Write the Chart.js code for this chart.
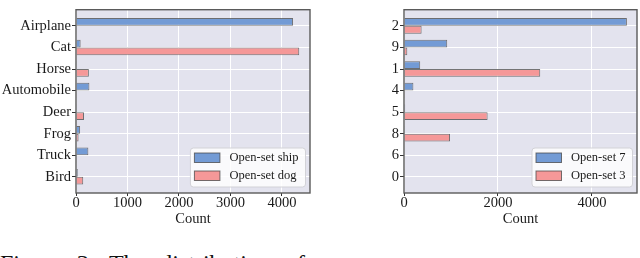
<!DOCTYPE html>
<html>
<head>
<meta charset="utf-8">
<script src="https://cdn.jsdelivr.net/npm/chart.js@4.4.1/dist/chart.umd.min.js"></script>
<style>
  html, body { margin: 0; padding: 0; background: #fff; }
  body { width: 640px; height: 258px; position: relative; overflow: hidden; }
  .panel { position: absolute; top: 0; width: 320px; height: 232px; }
  #leftBox { left: 0; }
  #rightBox { left: 320px; }
  #caption {
    position: absolute; left: 0; top: 251px; white-space: nowrap;
    font-family: 'Liberation Serif', 'Times New Roman', serif;
    font-size: 24px; line-height: 24px; word-spacing: 8px; color: #111;
  }
</style>
</head>
<body>
<div class="panel" id="leftBox"><canvas id="leftChart"></canvas></div>
<div class="panel" id="rightBox"><canvas id="rightChart"></canvas></div>
<div id="caption">Figure 3: The distribution of</div>
<script>
// ---- data ----
const leftCategories = ['Airplane', 'Cat', 'Horse', 'Automobile', 'Deer', 'Frog', 'Truck', 'Bird'];
const shipCounts = [4215, 90, 15, 260, 15, 80, 240, 35];
const dogCounts = [5, 4335, 250, 5, 155, 50, 5, 140];
const leftTicks = [0, 1000, 2000, 3000, 4000];

const rightCategories = ['2', '9', '1', '4', '5', '8', '6', '0'];
const set7Counts = [4745, 920, 345, 200, 25, 5, 10, 5];
const set3Counts = [375, 70, 2900, 5, 1780, 980, 10, 10];
const rightTicks = [0, 2000, 4000];

const BLUE = 'rgba(115, 155, 213, 1)';
const RED = 'rgba(245, 152, 152, 1)';
const EDGE = 'rgba(70, 70, 70, 0.75)';
const SERIF = "'Liberation Serif', 'Times New Roman', serif";

// 背景・枠・凡例を描くプラグイン
const framePlugin = {
    id: 'frame',
    beforeDraw(chart) {
        const { ctx, chartArea: a } = chart;
        ctx.save();
        ctx.fillStyle = '#e3e3ee';
        ctx.fillRect(a.left, a.top, a.right - a.left, a.bottom - a.top);
        ctx.restore();
    },
    afterDraw(chart) {
        const { ctx, chartArea: a } = chart;
        ctx.save();
        ctx.strokeStyle = '#5a5a5a';
        ctx.lineWidth = 1.4;
        ctx.strokeRect(a.left, a.top, a.right - a.left, a.bottom - a.top);

        // legend (inside, lower right)
        ctx.font = '12.5px ' + SERIF;
        const sets = chart.data.datasets;
        const textW = Math.max(...sets.map(d => ctx.measureText(d.label).width));
        const boxR = a.right - 4.5;
        const boxB = a.bottom - 6;
        const boxW = 40 + textW + 6;
        const boxH = 39;
        const boxL = boxR - boxW;
        const boxT = boxB - boxH;
        ctx.beginPath();
        ctx.roundRect(boxL, boxT, boxW, boxH, 3);
        ctx.fillStyle = 'rgba(255,255,255,0.8)';
        ctx.fill();
        ctx.strokeStyle = 'rgba(210,210,215,1)';
        ctx.lineWidth = 1;
        ctx.stroke();
        sets.forEach((d, i) => {
            const cy = boxT + 9.5 + i * 18;
            ctx.fillStyle = d.backgroundColor;
            ctx.fillRect(boxL + 4, cy - 4.5, 25.5, 9.5);
            ctx.strokeStyle = EDGE;
            ctx.lineWidth = 1;
            ctx.strokeRect(boxL + 4, cy - 4.5, 25.5, 9.5);
            ctx.fillStyle = '#1a1a1a';
            ctx.textBaseline = 'middle';
            ctx.textAlign = 'left';
            ctx.fillText(d.label, boxL + 39, cy);
        });
        ctx.restore();
    }
};

function makeData(values) {
    return values.map((v, i) => ({ x: v, y: i }));
}

function buildChart(canvasId, categories, seriesA, seriesB, labels, xMax, xTicks, yWidth, padRight) {
    const canvas = document.getElementById(canvasId);
    return new Chart(canvas, {
        type: 'bar',
        data: {
            datasets: [{
                label: labels[0],
                data: makeData(seriesA),
                backgroundColor: BLUE,
                borderColor: EDGE,
                borderWidth: 1,
                categoryPercentage: 0.72,
                barPercentage: 1.0
            }, {
                label: labels[1],
                data: makeData(seriesB),
                backgroundColor: RED,
                borderColor: EDGE,
                borderWidth: 1,
                categoryPercentage: 0.72,
                barPercentage: 1.0
            }]
        },
        options: {
            indexAxis: 'y',
            responsive: true,
            maintainAspectRatio: false,
            animation: false,
            layout: { padding: { top: 1, right: padRight, left: 0, bottom: 0 } },
            scales: {
                y: {
                    type: 'linear',
                    reverse: true,
                    offset: false,
                    min: -0.75,
                    max: categories.length - 1 + 0.75,
                    afterBuildTicks: scale => {
                        scale.ticks = categories.map((c, i) => ({ value: i }));
                    },
                    afterFit: scale => { scale.width = yWidth; },
                    ticks: {
                        callback: v => categories[v],
                        color: '#1a1a1a',
                        padding: 1,
                        font: { family: SERIF, size: 14.5 }
                    },
                    grid: {
                        offset: false,
                        color: '#ffffff',
                        lineWidth: 1,
                        tickColor: '#333',
                        tickLength: 4,
                        tickWidth: 1
                    },
                    border: { display: false }
                },
                x: {
                    type: 'linear',
                    min: 0,
                    max: xMax,
                    afterBuildTicks: scale => {
                        scale.ticks = xTicks.map(v => ({ value: v }));
                    },
                    afterFit: scale => { scale.height = 39; },
                    ticks: {
                        callback: v => String(v),
                        color: '#1a1a1a',
                        padding: 0,
                        font: { family: SERIF, size: 14.5, lineHeight: 1 }
                    },
                    grid: {
                        color: '#ffffff',
                        lineWidth: 1,
                        tickColor: '#333',
                        tickLength: 3,
                        tickWidth: 1
                    },
                    border: { display: false },
                    title: {
                        display: true,
                        text: 'Count',
                        color: '#1a1a1a',
                        padding: { top: 0, bottom: 4 },
                        font: { family: SERIF, size: 14.5 }
                    }
                }
            },
            plugins: {
                legend: { display: false },
                tooltip: { enabled: false }
            }
        },
        plugins: [framePlugin]
    });
}

buildChart('leftChart', leftCategories, shipCounts, dogCounts,
    ['Open-set ship', 'Open-set dog'], 4544, leftTicks, 76, 10);
buildChart('rightChart', rightCategories, set7Counts, set3Counts,
    ['Open-set 7', 'Open-set 3'], 4960, rightTicks, 84, 3);
</script>
</body>
</html>
